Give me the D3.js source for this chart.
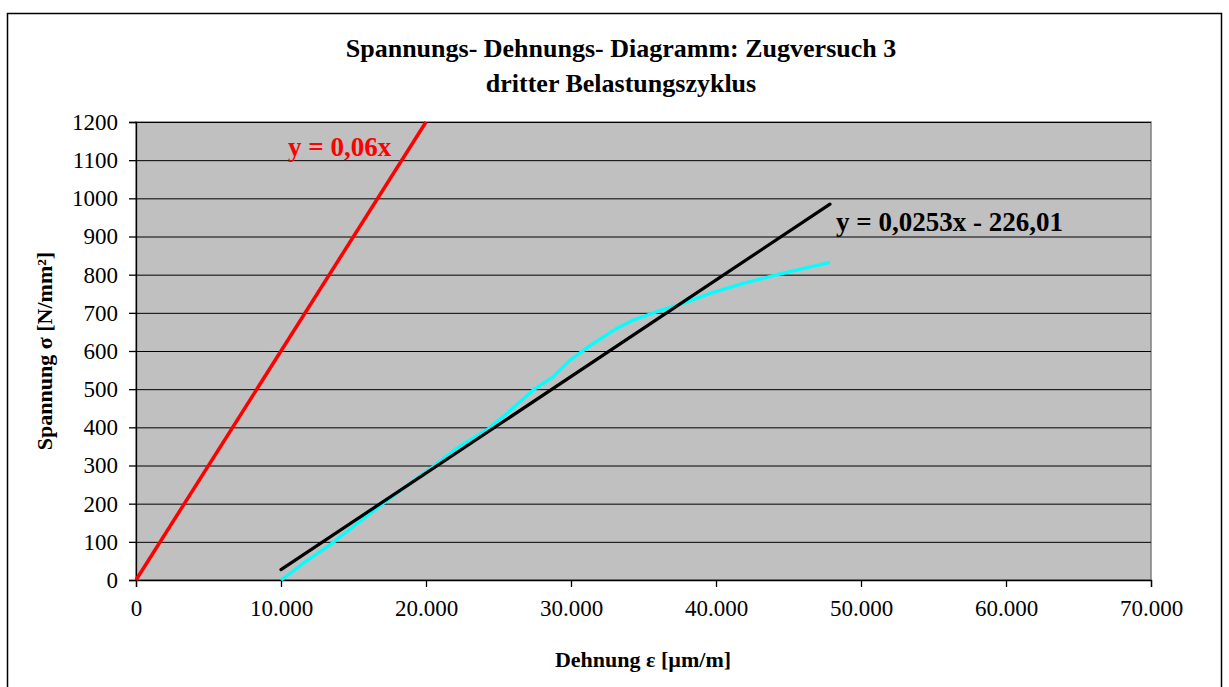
<!DOCTYPE html>
<html>
<head>
<meta charset="utf-8">
<script src="https://cdn.jsdelivr.net/npm/d3@7"></script>
<style>
  html, body { margin: 0; padding: 0; background: #fff; }
  svg { display: block; }
</style>
</head>
<body>
<svg id="chart" width="1229" height="687"></svg>
<script>
// Measured stress-strain curve, third loading cycle
const strain = [10000, 10620, 11540, 13380, 14990, 17060, 18900, 20500, 22120, 23030, 24190, 25330, 27400, 28780, 29930, 31540, 33150, 34300, 35910, 37750, 39590, 41880, 44640, 47860];
const stress = [0, 17, 44, 92, 140, 201, 253, 297, 345, 367, 393, 428, 498, 533, 576, 620, 659, 681, 703, 725, 751, 777, 804, 832];

// Reference line y = 0,06x (elastic slope)
const refX = [0, 20000];
const refSlope = 0.06;

// Linear trend through the measured curve
const trendX = [10000, 47860];
const trendSlope = 0.0253;
const trendIntercept = -226.01;

const xTicks = [0, 10000, 20000, 30000, 40000, 50000, 60000, 70000];
const yTicks = [0, 100, 200, 300, 400, 500, 600, 700, 800, 900, 1000, 1100, 1200];

const svg = d3.select("#chart");
const serif = "'Liberation Serif', 'Times New Roman', serif";

const plot = { left: 136, right: 1151, top: 122, bottom: 580 };
const x = d3.scaleLinear().domain([0, 70000]).range([plot.left, plot.right]);
const y = d3.scaleLinear().domain([0, 1200]).range([plot.bottom, plot.top]);

// Outer frame
svg.append("rect")
  .attr("x", 7.5).attr("y", 13.5).attr("width", 1214).attr("height", 690)
  .attr("fill", "#fff").attr("stroke", "#000").attr("stroke-width", 1.5);

// Title
const title = svg.append("text")
  .attr("text-anchor", "middle")
  .attr("font-family", serif).attr("font-weight", "bold").attr("font-size", 26);
title.append("tspan").attr("x", 621).attr("y", 57).text("Spannungs- Dehnungs- Diagramm: Zugversuch 3");
title.append("tspan").attr("x", 621).attr("y", 92).text("dritter Belastungszyklus");

// Plot background
svg.append("rect")
  .attr("x", plot.left).attr("y", plot.top)
  .attr("width", plot.right - plot.left).attr("height", plot.bottom - plot.top)
  .attr("fill", "#c0c0c0").attr("stroke", "#808080").attr("stroke-width", 1.5);

// Horizontal gridlines
svg.append("g")
  .selectAll("line")
  .data(yTicks.filter(d => d > 0))
  .join("line")
  .attr("x1", plot.left).attr("x2", plot.right)
  .attr("y1", d => y(d) + 0.5).attr("y2", d => y(d) + 0.5)
  .attr("stroke", "#000").attr("stroke-width", 1);

// Axes
const xAxis = svg.append("g")
  .attr("transform", `translate(0,${plot.bottom})`)
  .call(d3.axisBottom(x).tickValues(xTicks).tickSize(7).tickPadding(13)
    .tickFormat(d => d === 0 ? "0" : d3.format(",")(d).replace(/,/g, ".")));
xAxis.selectAll("text").attr("font-family", serif).attr("font-size", 23).attr("fill", "#000");
xAxis.selectAll("line, path").attr("stroke", "#000").attr("stroke-width", 1.3);

const yAxis = svg.append("g")
  .attr("transform", `translate(${plot.left},0)`)
  .call(d3.axisLeft(y).tickValues(yTicks).tickSize(7).tickPadding(11).tickFormat(d3.format("d")));
yAxis.selectAll("text").attr("font-family", serif).attr("font-size", 23).attr("fill", "#000");
yAxis.selectAll("line, path").attr("stroke", "#000").attr("stroke-width", 1.3);

// Axis titles
svg.append("text")
  .attr("x", 643).attr("y", 667)
  .attr("text-anchor", "middle")
  .attr("font-family", serif).attr("font-weight", "bold").attr("font-size", 22)
  .text("Dehnung ε [µm/m]");

svg.append("text")
  .attr("transform", "translate(52,351) rotate(-90)")
  .attr("text-anchor", "middle")
  .attr("font-family", serif).attr("font-weight", "bold").attr("font-size", 22)
  .text("Spannung σ [N/mm²]");

const line = d3.line().x(d => x(d[0])).y(d => y(d[1]));

// Measured curve
svg.append("path")
  .datum(strain.map((s, i) => [s, stress[i]]))
  .attr("d", line)
  .attr("fill", "none").attr("stroke", "#00ffff").attr("stroke-width", 3.3)
  .attr("stroke-linejoin", "round");

// Trend line
svg.append("path")
  .datum(trendX.map(v => [v, trendSlope * v + trendIntercept]))
  .attr("d", line)
  .attr("fill", "none").attr("stroke", "#000").attr("stroke-width", 3.2)
  .attr("stroke-linecap", "round");

// Reference line
svg.append("path")
  .datum(refX.map(v => [v, refSlope * v]))
  .attr("d", line)
  .attr("fill", "none").attr("stroke", "#ff0000").attr("stroke-width", 3.5);

// Equation labels
svg.append("text")
  .attr("x", 288).attr("y", 156)
  .attr("font-family", serif).attr("font-weight", "bold").attr("font-size", 27)
  .attr("fill", "#ff0000")
  .text("y = 0,06x");

svg.append("text")
  .attr("x", 836).attr("y", 231)
  .attr("font-family", serif).attr("font-weight", "bold").attr("font-size", 27)
  .attr("fill", "#000")
  .text("y = 0,0253x - 226,01");
</script>
</body>
</html>
